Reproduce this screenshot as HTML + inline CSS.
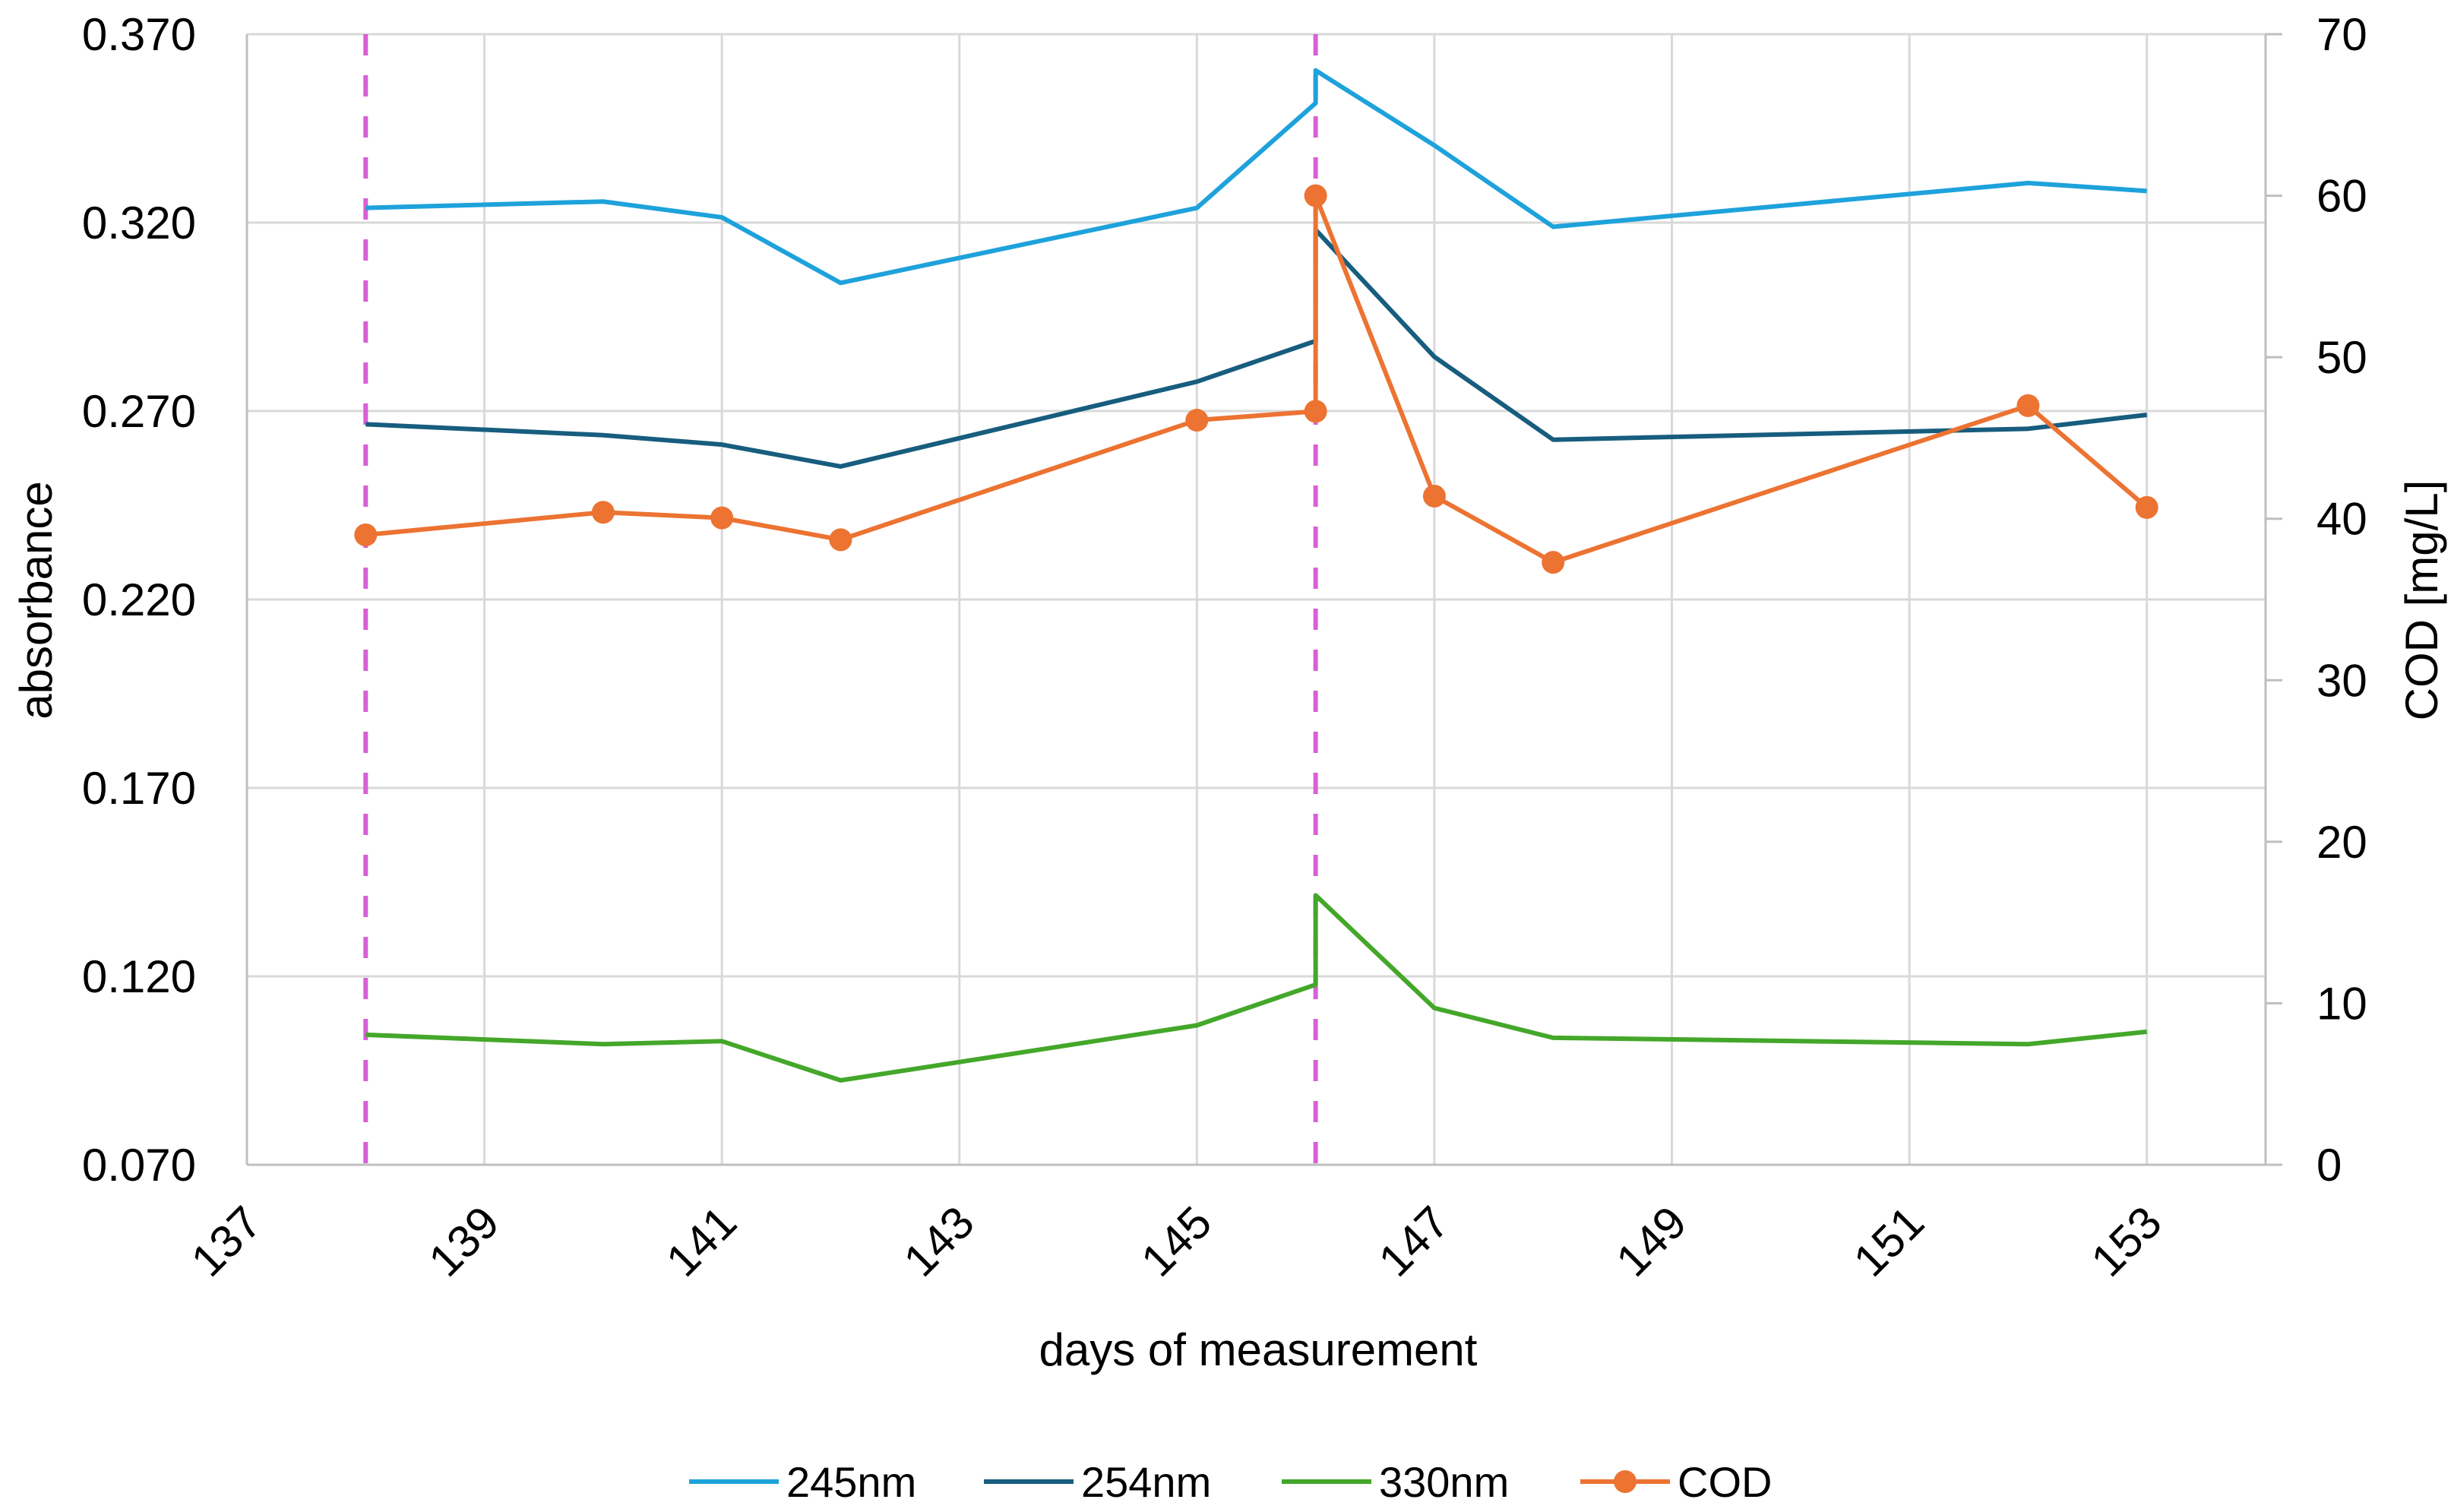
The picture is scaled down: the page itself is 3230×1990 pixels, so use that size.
<!DOCTYPE html>
<html><head><meta charset="utf-8"><style>
html,body{margin:0;padding:0;background:#fff;}
svg{display:block;font-family:"Liberation Sans",sans-serif;}
</style></head><body>
<svg id="chart" width="3230" height="1990" viewBox="0 0 3230 1990" xmlns="http://www.w3.org/2000/svg">
<g id="grid"></g>
<g id="axes"></g>
<g id="series"></g>
<text transform="translate(68,790) rotate(-90)" text-anchor="middle" font-size="60">absorbance</text>
<text transform="translate(3208,790) rotate(-90)" text-anchor="middle" font-size="60">COD [mg/L]</text>
<text x="1656" y="1797" text-anchor="middle" font-size="60">days of measurement</text>
<g id="legend"></g>
</svg>
<script>
const days = [138,140,141,142,145,146,146,147,148,152,153];
const abs245 = [0.3239,0.3256,0.3214,0.3040,0.3239,0.3517,0.3604,0.3405,0.3189,0.3305,0.3284];
const abs254 = [0.2665,0.2636,0.2611,0.2553,0.2778,0.2886,0.3181,0.2844,0.2624,0.2653,0.2690];
const abs330 = [0.1045,0.1020,0.1028,0.0924,0.1070,0.1178,0.1415,0.1116,0.1037,0.1020,0.1053];
const cod = [39.0,40.4,40.05,38.7,46.1,46.65,60.0,41.4,37.3,47.0,40.7];
const xTicks = [137,139,141,143,145,147,149,151,153];
const yTicks = [0.070,0.120,0.170,0.220,0.270,0.320,0.370];
const y2Ticks = [0,10,20,30,40,50,60,70];
const markerDays = [138,146];

const NS="http://www.w3.org/2000/svg";
const L=325,R=2982,T=45,B=1533;
const xMin=137,xMax=154,yMin=0.07,yMax=0.37,y2Min=0,y2Max=70;
const xs=v=>L+(v-xMin)/(xMax-xMin)*(R-L);
const ys=v=>B-(v-yMin)/(yMax-yMin)*(B-T);
const y2s=v=>B-(v-y2Min)/(y2Max-y2Min)*(B-T);
function mk(tag,attrs,parent){const e=document.createElementNS(NS,tag);for(const k in attrs)e.setAttribute(k,attrs[k]);parent.appendChild(e);return e;}
const grid=document.getElementById('grid'),axes=document.getElementById('axes'),series=document.getElementById('series'),legend=document.getElementById('legend');

yTicks.forEach(v=>{
  const l=mk('line',{x1:L,x2:R,y1:ys(v),y2:ys(v),stroke:'#d9d9d9','stroke-width':3},grid);
  
  
  const t=mk('text',{x:258,y:ys(v)+21,'text-anchor':'end','font-size':60},axes);
  t.textContent=v.toFixed(3);
  
  
});
xTicks.forEach(v=>{
  const l=mk('line',{x1:xs(v),x2:xs(v),y1:T,y2:B,stroke:'#d9d9d9','stroke-width':3},grid);
  
  
  const t=mk('text',{transform:`translate(${xs(v)+8},1598) rotate(-45)`,'text-anchor':'end','font-size':60,dy:'0.35em'},axes);
  t.textContent=String(v);
  
  
});
const rl=mk('line',{x1:R,x2:R,y1:T,y2:B,stroke:'#bfbfbf','stroke-width':3},axes);


const bl=mk('line',{x1:L,x2:R+22,y1:B,y2:B,stroke:'#bfbfbf','stroke-width':3},axes);


const ll=mk('line',{x1:L,x2:L,y1:T,y2:B,stroke:'#bfbfbf','stroke-width':3},axes);


y2Ticks.forEach(v=>{
  const tk=mk('line',{x1:R,x2:R+22,y1:y2s(v),y2:y2s(v),stroke:'#bfbfbf','stroke-width':3},axes);
  
  
  const t=mk('text',{x:3049,y:y2s(v)+21,'text-anchor':'start','font-size':60},axes);
  t.textContent=String(v);
  
  
});
markerDays.forEach(d=>{
  const l=mk('line',{x1:xs(d),x2:xs(d),y1:T,y2:B,stroke:'#d95fd6','stroke-width':6,'stroke-dasharray':'28 26'},series);
  
  
});
function drawLine(vals,scale,color,name){
  const pts=days.map((d,i)=>xs(d)+','+scale(vals[i])).join(' ');
  const p=mk('polyline',{points:pts,fill:'none',stroke:color,'stroke-width':6,'stroke-linejoin':'round'},series);
  
  
}
drawLine(abs245,ys,'#1ea2db','line-245nm');
drawLine(abs254,ys,'#175d7e','line-254nm');
drawLine(abs330,ys,'#44a72a','line-330nm');
drawLine(cod,y2s,'#ec7332','line-cod');
days.forEach((d,i)=>{
  const c=mk('circle',{cx:xs(d),cy:y2s(cod[i]),r:15,fill:'#ec7332'},series);
  
  
});
const leg=[['245nm','#1ea2db',907,false],['254nm','#175d7e',1295,false],['330nm','#44a72a',1687,false],['COD','#ec7332',2080,true]];
leg.forEach(e=>{
  const g=mk('g',{},legend);
  
  
  mk('line',{x1:e[2],x2:e[2]+118,y1:1950,y2:1950,stroke:e[1],'stroke-width':6},g);
  if(e[3]) mk('circle',{cx:e[2]+59,cy:1950,r:15,fill:e[1]},g);
  const t=mk('text',{x:e[2]+128,y:1970,'font-size':56},g);
  t.textContent=e[0];
});
</script>
</body></html>
